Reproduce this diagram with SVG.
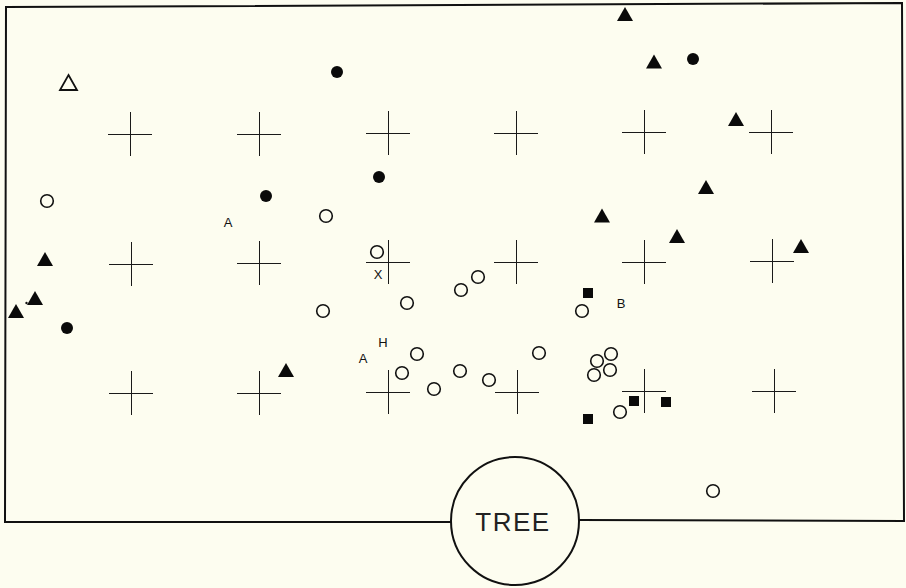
<svg xmlns="http://www.w3.org/2000/svg" width="906" height="588" viewBox="0 0 906 588">
<defs>
<style>
.cr{stroke:#1a1a1a;stroke-width:1;fill:none}
.oc{fill:none;stroke:#111;stroke-width:1.6}
.fc{fill:#0a0a0a}
.lbl{font-family:"Liberation Sans",Arial,sans-serif;font-size:13px;fill:#111;text-anchor:middle}
.frame{fill:none;stroke:#111;stroke-width:2}
</style>
<path id="tri" d="M0,-7 L8,7 L-8,7 Z" fill="#0a0a0a"/>
<circle id="oc" r="6.3" class="oc"/>
<circle id="fc" r="6" class="fc"/>
<rect id="sq" x="-5" y="-5" width="10" height="10" fill="#0a0a0a"/>
<path id="cross" d="M-22,0.5 H22 M0.5,-22 V22" class="cr"/>
</defs>
<rect width="906" height="588" fill="#fdfdf0"/>
<g id="frame">
<polyline class="frame" points="451,522 5,522 6,7 902,3 904,521 579,520"/>
</g>
<g id="tree">
<circle cx="515" cy="521" r="64" fill="#fdfdf0" stroke="#111" stroke-width="2"/>
<text x="513" y="531" font-family="'Liberation Sans',Arial,sans-serif" font-size="26" text-anchor="middle" letter-spacing="1.5" fill="#222">TREE</text>
</g>
<g id="grid">
<use href="#cross" x="130" y="134"/>
<use href="#cross" x="259" y="134"/>
<use href="#cross" x="388" y="133"/>
<use href="#cross" x="516" y="133"/>
<use href="#cross" x="644" y="132"/>
<use href="#cross" x="771" y="132"/>
<use href="#cross" x="131" y="264"/>
<use href="#cross" x="259" y="263"/>
<use href="#cross" x="388" y="262"/>
<use href="#cross" x="516" y="262"/>
<use href="#cross" x="644" y="262"/>
<use href="#cross" x="772" y="261"/>
<use href="#cross" x="131" y="393"/>
<use href="#cross" x="259" y="393"/>
<use href="#cross" x="388" y="392"/>
<use href="#cross" x="517" y="392"/>
<use href="#cross" x="644" y="391"/>
<use href="#cross" x="774" y="391"/>
</g>
<g id="open-triangle">
<path d="M68.5,75 L77,90 L60,90 Z" fill="none" stroke="#111" stroke-width="1.8" stroke-linejoin="miter"/>
</g>
<g id="filled-triangles">
<use href="#tri" x="625" y="14"/>
<use href="#tri" x="654" y="61.5"/>
<use href="#tri" x="736" y="119"/>
<use href="#tri" x="706" y="187"/>
<use href="#tri" x="602" y="215.5"/>
<use href="#tri" x="677" y="236"/>
<use href="#tri" x="801" y="246"/>
<use href="#tri" x="45" y="259"/>
<use href="#tri" x="35" y="298"/>
<use href="#tri" x="16" y="311"/>
<use href="#tri" x="286" y="370"/>
<circle cx="26.5" cy="303" r="1.2" fill="#111"/>
</g>
<g id="filled-circles">
<use href="#fc" x="337" y="72"/>
<use href="#fc" x="379" y="177"/>
<use href="#fc" x="693" y="59"/>
<use href="#fc" x="266" y="196"/>
<use href="#fc" x="67" y="328"/>
</g>
<g id="open-circles">
<use href="#oc" x="47" y="201"/>
<use href="#oc" x="326" y="216"/>
<use href="#oc" x="377" y="252"/>
<use href="#oc" x="323" y="311"/>
<use href="#oc" x="407" y="303"/>
<use href="#oc" x="461" y="290"/>
<use href="#oc" x="478" y="277"/>
<use href="#oc" x="417" y="354"/>
<use href="#oc" x="402" y="373"/>
<use href="#oc" x="434" y="389"/>
<use href="#oc" x="460" y="371"/>
<use href="#oc" x="489" y="380"/>
<use href="#oc" x="539" y="353"/>
<use href="#oc" x="582" y="311"/>
<use href="#oc" x="597" y="361"/>
<use href="#oc" x="611" y="354"/>
<use href="#oc" x="594" y="375"/>
<use href="#oc" x="610" y="370"/>
<use href="#oc" x="620" y="412"/>
<use href="#oc" x="713" y="491"/>
</g>
<g id="squares">
<use href="#sq" x="588" y="293"/>
<use href="#sq" x="634" y="401"/>
<use href="#sq" x="666" y="402"/>
<use href="#sq" x="588" y="419"/>
</g>
<g id="labels">
<text class="lbl" x="228" y="227">A</text>
<text class="lbl" x="378" y="279">X</text>
<text class="lbl" x="383" y="347">H</text>
<text class="lbl" x="363" y="363">A</text>
<text class="lbl" x="621" y="308">B</text>
</g>
</svg>
